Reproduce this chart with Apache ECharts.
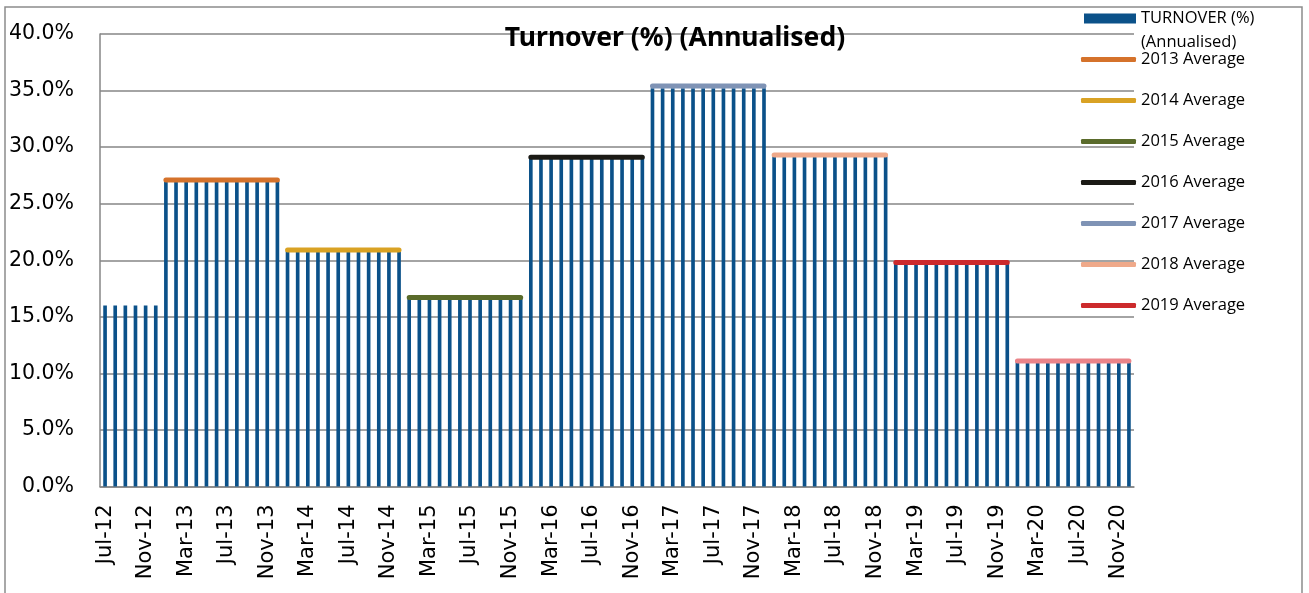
<!DOCTYPE html>
<html lang="en">
<head>
    <meta charset="UTF-8">
    <title>turnover-annualised</title>
    <script type="text/javascript" src="https://cdn.jsdelivr.net/npm/echarts@6/dist/echarts.min.js"></script>
    <style>
        html, body { margin: 0; padding: 0; background: #fff; }
    </style>
</head>
<body>
<div id="turnoverChart" style="width: 1309px;height: 593px;"></div>
<script type="text/javascript">
    // month labels, Jul-12 .. Dec-20
    var monthNames = ['Jan', 'Feb', 'Mar', 'Apr', 'May', 'Jun', 'Jul', 'Aug', 'Sep', 'Oct', 'Nov', 'Dec'];
    var yearLabels = ['12', '13', '14', '15', '16', '17', '18', '19', '20'];

    // monthly turnover (%), one row per year
    var turnover = [
        16.0, 16.0, 16.0, 16.0, 16.0, 16.0,
        27.0, 27.0, 27.0, 27.0, 27.0, 27.0, 27.0, 27.0, 27.0, 27.0, 27.0, 27.0,
        20.8, 20.8, 20.8, 20.8, 20.8, 20.8, 20.8, 20.8, 20.8, 20.8, 20.8, 20.8,
        16.6, 16.6, 16.6, 16.6, 16.6, 16.6, 16.6, 16.6, 16.6, 16.6, 16.6, 16.6,
        29.0, 29.0, 29.0, 29.0, 29.0, 29.0, 29.0, 29.0, 29.0, 29.0, 29.0, 29.0,
        35.2, 35.2, 35.2, 35.2, 35.2, 35.2, 35.2, 35.2, 35.2, 35.2, 35.2, 35.2,
        29.2, 29.2, 29.2, 29.2, 29.2, 29.2, 29.2, 29.2, 29.2, 29.2, 29.2, 29.2,
        19.7, 19.7, 19.7, 19.7, 19.7, 19.7, 19.7, 19.7, 19.7, 19.7, 19.7, 19.7,
        11.0, 11.0, 11.0, 11.0, 11.0, 11.0, 11.0, 11.0, 11.0, 11.0, 11.0, 11.0
    ];

    // yearly averages
    var avgYears = ['13', '14', '15', '16', '17', '18', '19', '20'];
    var avgNames = ['2013 Average', '2014 Average', '2015 Average', '2016 Average',
        '2017 Average', '2018 Average', '2019 Average', '2020 Average'];
    var avgValues = [27.1, 20.9, 16.7, 29.1, 35.4, 29.3, 19.8, 11.1];
    var avgColors = ['#d5722b', '#d9a224', '#5a6b2b', '#1b1a15', '#7f93b5', '#efa98a', '#cc2a2c', '#ea8489'];

    var categories = [];
    for (var y = 0; y < yearLabels.length; y++) {
        for (var m = (y === 0 ? 6 : 0); m < 12; m++) {
            categories.push(monthNames[m] + '-' + yearLabels[y]);
        }
    }

    var series = [{
        name: 'TURNOVER (%) (Annualised)',
        type: 'bar',
        barWidth: '36%',
        itemStyle: {color: '#0b5189'},
        data: turnover,
        z: 2
    }];
    for (var i = 0; i < avgNames.length; i++) {
        var lineData = [];
        for (var c = 0; c < categories.length; c++) {
            lineData.push(categories[c].slice(-2) === avgYears[i] ? avgValues[i] : null);
        }
        series.push({
            name: avgNames[i],
            type: 'line',
            symbol: 'none',
            showSymbol: false,
            z: 5,
            color: avgColors[i],
            lineStyle: {color: avgColors[i], width: 5, cap: 'round'},
            data: lineData
        });
    }

    var legendText = {fontFamily: 'Open Sans', fontSize: 16.5, color: '#000'};

    var myChart = echarts.init(document.getElementById('turnoverChart'));
    var option = {
        animation: false,
        backgroundColor: '#fff',
        title: {
            text: 'Turnover (%) (Annualised)',
            left: 670,
            textAlign: 'center',
            top: 20,
            textStyle: {
                fontFamily: 'Noto Sans',
                fontWeight: 'bold',
                fontSize: 26.5,
                color: '#000'
            }
        },
        legend: [{
            orient: 'vertical',
            left: 1079,
            top: 5,
            icon: 'rect',
            itemWidth: 52,
            itemHeight: 10,
            itemGap: 0,
            data: ['TURNOVER (%) (Annualised)'],
            formatter: function () { return 'TURNOVER (%)'; },
            textStyle: legendText
        }, {
            orient: 'vertical',
            left: 1076,
            top: 46,
            icon: 'roundRect',
            itemWidth: 55,
            itemHeight: 5,
            itemGap: 24,
            data: avgNames.slice(0, 7),
            textStyle: legendText
        }],
        graphic: [{
            type: 'text',
            left: 1141,
            top: 34,
            style: {text: '(Annualised)', font: '16.5px "Open Sans"', fill: '#000'}
        }, {
            type: 'rect',
            silent: true,
            shape: {x: 5, y: 7, width: 1297, height: 620},
            style: {fill: 'none', stroke: '#8c8c8c', lineWidth: 1.5}
        }],
        grid: {left: 100, right: 175, top: 34, bottom: 106.5},
        xAxis: {
            type: 'category',
            data: categories,
            axisLine: {lineStyle: {color: '#868686', width: 1.5}},
            axisTick: {show: false},
            axisLabel: {
                interval: 3,
                rotate: 90,
                margin: 18,
                fontFamily: 'DejaVu Sans',
                fontSize: 21,
                color: '#000'
            }
        },
        yAxis: {
            type: 'value',
            min: 0,
            max: 40,
            interval: 5,
            axisLine: {show: true, lineStyle: {color: '#868686', width: 1.5}},
            axisTick: {show: false},
            splitLine: {lineStyle: {color: '#868686', width: 1.5}},
            axisLabel: {
                margin: 26,
                fontFamily: 'DejaVu Sans',
                fontSize: 20.5,
                color: '#000',
                formatter: function (v) { return v.toFixed(1) + '%'; }
            }
        },
        series: series
    };
    myChart.setOption(option);
</script>
</body>
</html>
